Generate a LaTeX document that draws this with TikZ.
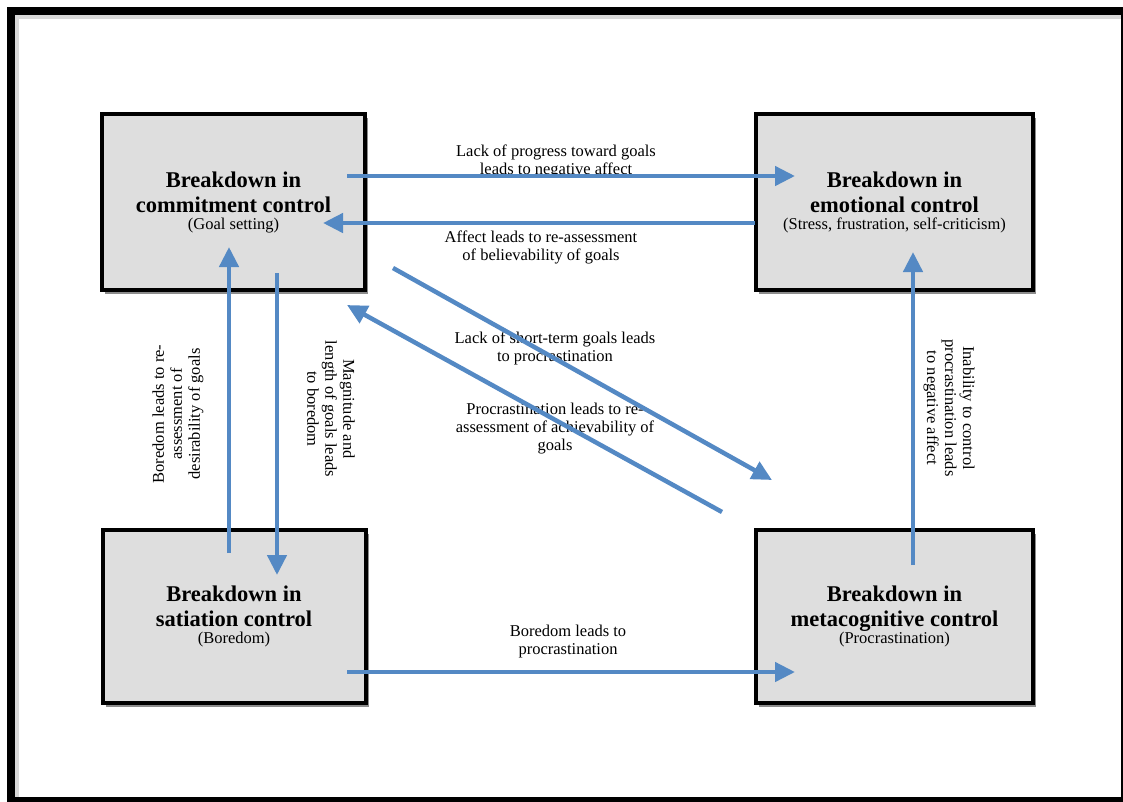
\documentclass[tikz,border=0pt]{standalone}
\usepackage{fontspec}
\setmainfont{Liberation Serif}
\usetikzlibrary{arrows.meta,shadows}
\definecolor{flowblue}{RGB}{84,137,196}
\definecolor{boxgray}{RGB}{222,222,222}
\newcommand{\stagetitle}{\bfseries\fontsize{22.5}{25}\selectfont}

\tikzset{
  stage/.style={draw=black, line width=4pt, fill=boxgray,
    minimum width=263pt, minimum height=176pt, align=center, inner sep=0pt,
    font=\fontsize{16.5}{17}\selectfont,
    drop shadow={shadow xshift=3pt, shadow yshift=-4pt, opacity=0.45, fill=black}},
  flow/.style={draw=flowblue, line width=4.5pt, -{Triangle[length=20pt,width=19pt]}},
  note/.style={align=center, inner sep=0pt, font=\fontsize{16.5}{18}\selectfont}
}

\begin{document}
\begin{tikzpicture}[x=1pt,y=-1pt]
\useasboundingbox (0,0) rectangle (1123,801);
% outer frame
\draw [black!15, line width=4pt] (17,801) -- (17,17) -- (1123,17);
\draw [line width=8pt] (11,11) rectangle (1125,801);

% the four breakdowns
\node [stage] (commit) at (233.5,202) {{\stagetitle Breakdown in}\\[8pt]{\stagetitle commitment control}\\(Goal setting)};
\node [stage, minimum width=277pt] (emotion) at (894.5,202) {{\stagetitle Breakdown in}\\[8pt]{\stagetitle emotional control}\\(Stress, frustration, self-criticism)};
\node [stage, minimum height=173pt] (satiation) at (234,616.5) {{\stagetitle Breakdown in}\\[8pt]{\stagetitle satiation control}\\(Boredom)};
\node [stage, minimum width=277pt, minimum height=173pt] (meta) at (894.5,616.5) {{\stagetitle Breakdown in}\\[8pt]{\stagetitle metacognitive control}\\(Procrastination)};

% labels
\node [note] (progress) at (556,161) {Lack of progress toward goals\\leads to negative affect};
\node [note] (believe) at (541,247) {Affect leads to re-assessment\\of believability of goals};
\node [note] (shortterm) at (555,348) {Lack of short-term goals leads\\to procrastination};
\node [note] (achieve) at (555,429) {Procrastination leads to re-\\assessment of achievability of\\goals};
\node [note] (boredproc) at (568,642) {Boredom leads to\\procrastination};
\node [note, rotate=90] (desire) at (178,414) {Boredom leads to re-\\assessment of\\desirability of goals};
\node [note, rotate=-90] (magnitude) at (331,409) {Magnitude and\\length of goals leads\\to boredom};
\node [note, rotate=-90] (inability) at (949,408) {Inability to control\\procrastination leads\\to negative affect};

% arrow ends
\coordinate (ce1) at (347,176);  \coordinate (ew1) at (795,176);
\coordinate (ew2) at (755,223);  \coordinate (ce2) at (323,223);
\coordinate (sn1) at (229,553);  \coordinate (cs1) at (229,247);
\coordinate (cs2) at (277,273);  \coordinate (sn2) at (277,575);
\coordinate (cd1) at (393,268);  \coordinate (mw1) at (772,480);
\coordinate (mw2) at (722,512);  \coordinate (cd2) at (347,305);
\coordinate (mn1) at (913,565);  \coordinate (es1) at (913,252);
\coordinate (se1) at (347,672);  \coordinate (mw3) at (795,672);

\draw [flow] (ce1) -- (ew1);
\draw [flow] (ew2) -- (ce2);
\draw [flow] (sn1) -- (cs1);
\draw [flow] (cs2) -- (sn2);
\draw [flow] (cd1) -- (mw1);
\draw [flow] (mw2) -- (cd2);
\draw [flow] (mn1) -- (es1);
\draw [flow] (se1) -- (mw3);
\end{tikzpicture}
\end{document}
